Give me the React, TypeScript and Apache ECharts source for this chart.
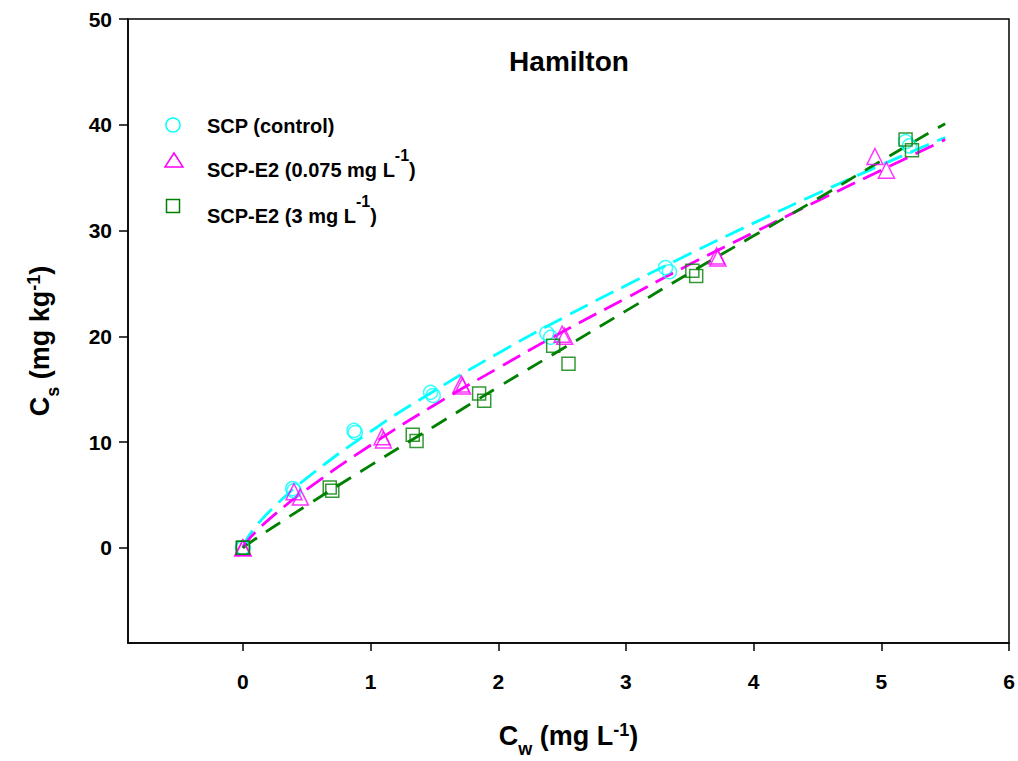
import React, { useEffect, useRef } from "react";
import * as echarts from "echarts";

// Measured points (two replicates per concentration)
const scpX = [0, 0, 0.39, 0.4, 0.87, 0.88, 1.47, 1.49, 2.38, 2.41, 3.31, 3.34, 5.19, 5.22];
const scpY = [0, 0, 5.6, 5.4, 11.1, 10.9, 14.7, 14.4, 20.3, 19.9, 26.5, 26.1, 38.4, 38.0];

const e2lowX = [0, 0, 0.4, 0.45, 1.09, 1.1, 1.71, 1.72, 2.5, 2.52, 3.71, 3.72, 4.95, 5.04];
const e2lowY = [0, 0, 5.3, 4.8, 10.5, 10.2, 15.5, 15.3, 20.2, 20.0, 27.6, 27.4, 37.0, 35.7];

const e2highX = [0, 0, 0.68, 0.7, 1.33, 1.36, 1.85, 1.89, 2.43, 2.55, 3.52, 3.55, 5.19, 5.24];
const e2highY = [0, 0, 5.7, 5.4, 10.7, 10.1, 14.6, 13.9, 19.1, 17.4, 26.2, 25.7, 38.6, 37.6];

// Fitted curves
const fitX = [0, 0.02, 0.1, 0.25, 0.5, 1, 1.5, 2, 2.5, 3, 3.5, 4, 4.5, 5, 5.5];
const scpFitY = [0, 0.61, 2.0, 3.94, 6.59, 11.0, 14.85, 18.4, 21.7, 24.8, 27.8, 30.7, 33.5, 36.2, 38.8];
const e2lowFitY = [0, 0.41, 1.5, 3.16, 5.53, 9.7, 13.5, 17.0, 20.4, 23.6, 26.8, 29.8, 32.8, 35.7, 38.6];
const e2highFitY = [0, 0.18, 0.86, 2.06, 4.01, 7.8, 11.5, 15.2, 18.8, 22.4, 26.0, 29.5, 33.0, 36.6, 40.1];

const xTicks = [0, 1, 2, 3, 4, 5, 6];
const yTicks = [0, 10, 20, 30, 40, 50];

const CYAN = "#00FFFF";
const MAGENTA = "#FF00FF";
const GREEN = "#008000";
const FONT = "'Liberation Sans', Arial, sans-serif";

const zip = (xs: number[], ys: number[]) => xs.map((x, i) => [x, ys[i]]);

export default function App() {
  const ref = useRef<HTMLDivElement>(null);
  useEffect(() => {
    if (!ref.current) return;
    const chart = echarts.init(ref.current, null, { renderer: "svg" });
    const base = { fontWeight: "bold", fontFamily: FONT, color: "#000", verticalAlign: "middle" };
    const nameRich = {
      m: { ...base, fontSize: 27, lineHeight: 30 },
      sub: { ...base, fontSize: 18, lineHeight: 18, padding: [26, 0, 0, 0] },
      sup: { ...base, fontSize: 18, lineHeight: 18, padding: [0, 0, 13, 0] },
    };
    const lbase = { fontWeight: "bold", fontFamily: FONT, fill: "#000", verticalAlign: "middle" };
    const legRich = {
      m: { ...lbase, fontSize: 20, lineHeight: 22 },
      sup: { ...lbase, fontSize: 16, lineHeight: 16, padding: [0, 0, 30, 0] },
    };
    const scatter = (name: string, data: number[][], symbol: string, size: number, color: string) => ({
      name,
      type: "scatter",
      data,
      symbol,
      symbolSize: size,
      itemStyle: { color: "rgba(0,0,0,0)", borderColor: color, borderWidth: 1.5 },
      z: 3,
    });
    const fit = (data: number[][], color: string, dash: number[]) => ({
      type: "line",
      data,
      smooth: true,
      showSymbol: false,
      symbol: "none",
      lineStyle: { color, width: 2.8, type: dash },
      z: 2,
    });
    chart.setOption({
      animation: false,
      backgroundColor: "#fff",
      grid: {
        left: 128, top: 19, right: 9, bottom: 118,
        show: true, borderColor: "#000", borderWidth: 1.5,
        containLabel: false, outerBoundsMode: "none",
      },
      xAxis: {
        type: "value",
        min: -0.9,
        max: 6,
        splitLine: { show: false },
        axisLine: { show: true, onZero: false, lineStyle: { color: "#000", width: 1.5 } },
        axisTick: { show: true, customValues: xTicks, length: 8, lineStyle: { color: "#000", width: 1.5 } },
        axisLabel: { customValues: xTicks, margin: 28, fontSize: 21, fontWeight: "bold", fontFamily: FONT, color: "#000" },
        name: "{m|C}{sub|w}{m| (mg L}{sup|-1}{m|)}",
        nameLocation: "middle",
        nameGap: 78,
        nameTextStyle: { rich: nameRich },
      },
      yAxis: {
        type: "value",
        min: -9,
        max: 50,
        splitLine: { show: false },
        axisLine: { show: true, onZero: false, lineStyle: { color: "#000", width: 1.5 } },
        axisTick: { show: true, customValues: yTicks, length: 9, lineStyle: { color: "#000", width: 1.5 } },
        axisLabel: { customValues: yTicks, margin: 16, fontSize: 21, fontWeight: "bold", fontFamily: FONT, color: "#000" },
        name: "{m|C}{sub|s}{m| (mg kg}{sup|-1}{m|)}",
        nameLocation: "middle",
        nameRotate: 90,
        nameGap: 73,
        nameTextStyle: { rich: nameRich, padding: [0, 20, 0, 0] },
      },
      graphic: [
        {
          type: "text", x: 569, y: 61,
          style: { text: "Hamilton", font: `bold 28px ${FONT}`, fill: "#000", align: "center", verticalAlign: "middle" },
        },
        { type: "circle", shape: { cx: 173, cy: 125, r: 7 }, style: { fill: "none", stroke: CYAN, lineWidth: 1.5 } },
        { type: "polygon", shape: { points: [[174, 153], [183, 167], [165, 167]] }, style: { fill: "none", stroke: MAGENTA, lineWidth: 1.5 } },
        { type: "rect", shape: { x: 166.5, y: 199.5, width: 13, height: 13 }, style: { fill: "none", stroke: GREEN, lineWidth: 1.5 } },
        {
          type: "text", x: 207, y: 126,
          style: { text: "SCP (control)", font: `bold 20px ${FONT}`, fill: "#000", verticalAlign: "middle" },
        },
        {
          type: "text", x: 207, y: 170,
          style: { text: "{m|SCP-E2 (0.075 mg L}{sup|-1}{m|)}", rich: legRich, verticalAlign: "middle" },
        },
        {
          type: "text", x: 207, y: 216,
          style: { text: "{m|SCP-E2 (3 mg L}{sup|-1}{m|)}", rich: legRich, verticalAlign: "middle" },
        },
      ],
      series: [
        fit(zip(fitX, scpFitY), CYAN, [20, 9]),
        fit(zip(fitX, e2lowFitY), MAGENTA, [20, 9]),
        fit(zip(fitX, e2highFitY), GREEN, [17, 11]),
        scatter("SCP (control)", zip(scpX, scpY), "circle", 14, CYAN),
        scatter("SCP-E2 (0.075 mg L-1)", zip(e2lowX, e2lowY), "triangle", 16, MAGENTA),
        scatter("SCP-E2 (3 mg L-1)", zip(e2highX, e2highY), "rect", 13, GREEN),
      ],
    });
    return () => chart.dispose();
  }, []);
  return <div ref={ref} style={{ position: "fixed", left: 0, top: 0, width: 1018, height: 761 }} />;
}
